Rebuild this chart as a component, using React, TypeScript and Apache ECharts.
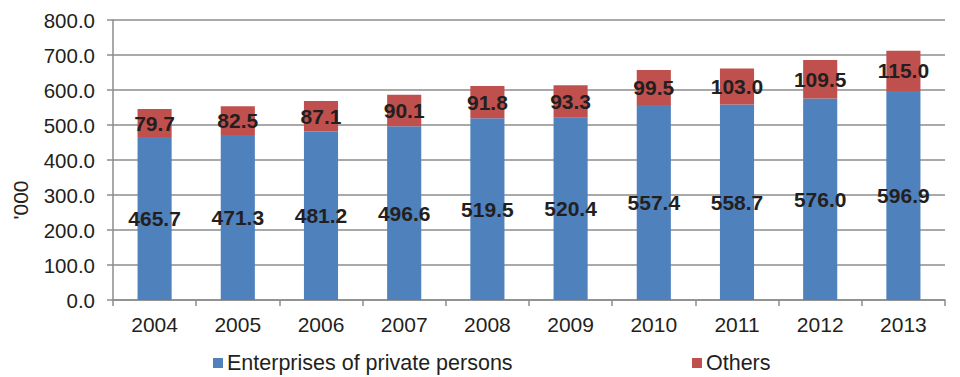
import React, { useEffect, useRef } from "react";
import * as echarts from "echarts";

const years = ["2004", "2005", "2006", "2007", "2008", "2009", "2010", "2011", "2012", "2013"];
const privateEnterprises = [465.7, 471.3, 481.2, 496.6, 519.5, 520.4, 557.4, 558.7, 576.0, 596.9];
const others = [79.7, 82.5, 87.1, 90.1, 91.8, 93.3, 99.5, 103.0, 109.5, 115.0];
const seriesNames = ["Enterprises of private persons", "Others"];
const yTickStep = 100;
const yMax = 800;

const FONT = "'Liberation Sans', Arial, sans-serif";
const TEXT = "#231f20";

export default function App() {
  const ref = useRef<HTMLDivElement>(null);
  useEffect(() => {
    if (!ref.current) return;
    const chart = echarts.init(ref.current, null, { renderer: "svg" });
    const labelCfg = {
      show: true,
      position: "inside",
      fontFamily: FONT,
      fontSize: 21,
      fontWeight: "bold",
      color: TEXT,
      formatter: (p: any) => Number(p.value).toFixed(1),
    };
    chart.setOption({
      animation: false,
      textStyle: { fontFamily: FONT },
      grid: { left: 113, right: 15, top: 20, bottom: 77, containLabel: false },
      legend: [
        {
          data: [seriesNames[0]],
          left: 213,
          top: 352,
          padding: 0,
          itemWidth: 10,
          itemHeight: 10,
          icon: "rect",
          textStyle: { fontFamily: FONT, fontSize: 21.5, color: TEXT, padding: [0, 0, 0, -1] },
        },
        {
          data: [seriesNames[1]],
          left: 692,
          top: 352,
          padding: 0,
          itemWidth: 10,
          itemHeight: 10,
          icon: "rect",
          textStyle: { fontFamily: FONT, fontSize: 21.5, color: TEXT, padding: [0, 0, 0, -1] },
        },
      ],
      xAxis: {
        type: "category",
        data: years,
        axisLine: { lineStyle: { color: "#8c8c8c", width: 1.5 } },
        axisTick: { show: true, length: 6, lineStyle: { color: "#8c8c8c", width: 1.5 } },
        axisLabel: { fontFamily: FONT, fontSize: 21, color: TEXT, margin: 14 },
      },
      yAxis: {
        type: "value",
        min: 0,
        max: yMax,
        interval: yTickStep,
        axisLine: { show: true, lineStyle: { color: "#8c8c8c", width: 1.5 } },
        axisTick: { show: true, length: 6, lineStyle: { color: "#8c8c8c", width: 1.5 } },
        splitLine: { show: true, lineStyle: { color: "#8c8c8c", width: 1.5 } },
        axisLabel: {
          fontFamily: FONT,
          fontSize: 20.5,
          color: TEXT,
          margin: 18,
          formatter: (v: number) => v.toFixed(1),
        },
      },
      graphic: [
        {
          type: "text",
          x: 20,
          y: 200,
          rotation: Math.PI / 2,
          style: {
            text: "'000",
            fontFamily: FONT,
            fontSize: 21,
            fill: TEXT,
            textAlign: "center",
            textVerticalAlign: "middle",
          },
        },
      ],
      series: [
        {
          name: seriesNames[0],
          type: "bar",
          stack: "total",
          data: privateEnterprises,
          barWidth: "41%",
          itemStyle: { color: "#4f81bd" },
          label: labelCfg,
        },
        {
          name: seriesNames[1],
          type: "bar",
          stack: "total",
          data: others,
          barWidth: "41%",
          itemStyle: { color: "#c0504d" },
          label: labelCfg,
        },
      ],
    });
    return () => chart.dispose();
  }, []);
  return <div ref={ref} style={{ width: 960, height: 377, position: "absolute", left: 0, top: 0 }} />;
}
